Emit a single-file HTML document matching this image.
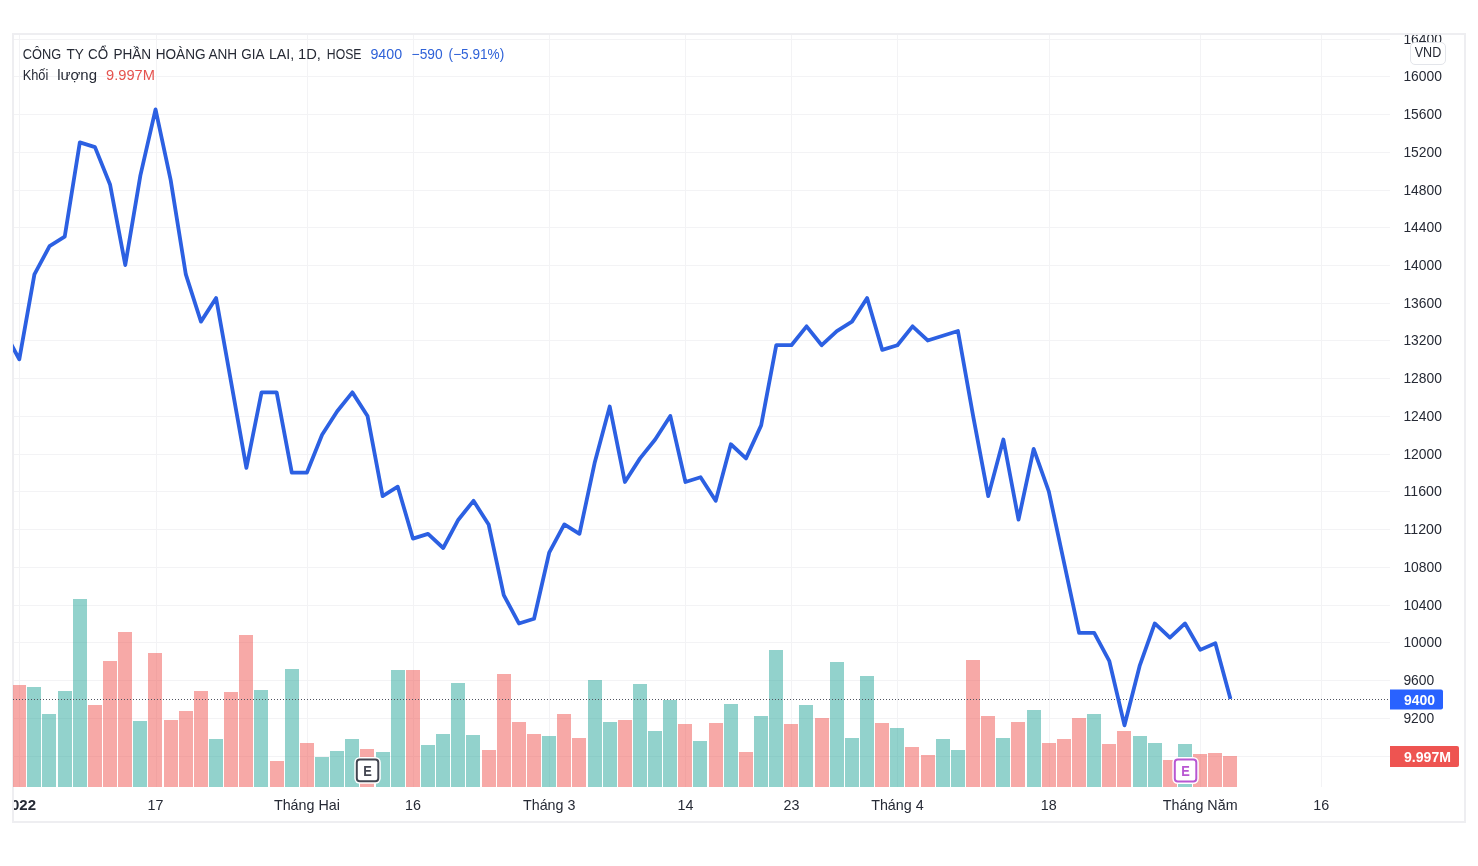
<!DOCTYPE html>
<html lang="vi"><head><meta charset="utf-8"><title>HAG</title>
<style>html,body{margin:0;padding:0;background:#fff;}body{width:1478px;height:866px;position:relative;overflow:hidden;font-family:"Liberation Sans",sans-serif;}</style></head>
<body>
<svg width="1478" height="866" viewBox="0 0 1478 866" style="position:absolute;left:0;top:0;display:block;will-change:transform" font-family='"Liberation Sans", sans-serif'>
<defs><clipPath id="plot"><rect x="13" y="35" width="1377" height="752"/></clipPath><clipPath id="axis"><rect x="1390" y="35" width="74" height="752"/></clipPath><clipPath id="time"><rect x="14" y="787" width="1450" height="34"/></clipPath></defs>
<rect x="0" y="0" width="1478" height="866" fill="#ffffff"/>
<g fill="#eeeef1" shape-rendering="crispEdges">
<rect x="12" y="33" width="1454" height="2"/>
<rect x="12" y="821" width="1454" height="2"/>
<rect x="12" y="33" width="2" height="790"/>
<rect x="1464" y="33" width="2" height="790"/>
</g>
<g fill="#f3f3f5" shape-rendering="crispEdges">
<rect x="14" y="39" width="1376" height="1"/>
<rect x="14" y="76" width="1376" height="1"/>
<rect x="14" y="114" width="1376" height="1"/>
<rect x="14" y="152" width="1376" height="1"/>
<rect x="14" y="190" width="1376" height="1"/>
<rect x="14" y="227" width="1376" height="1"/>
<rect x="14" y="265" width="1376" height="1"/>
<rect x="14" y="303" width="1376" height="1"/>
<rect x="14" y="340" width="1376" height="1"/>
<rect x="14" y="378" width="1376" height="1"/>
<rect x="14" y="416" width="1376" height="1"/>
<rect x="14" y="454" width="1376" height="1"/>
<rect x="14" y="491" width="1376" height="1"/>
<rect x="14" y="529" width="1376" height="1"/>
<rect x="14" y="567" width="1376" height="1"/>
<rect x="14" y="605" width="1376" height="1"/>
<rect x="14" y="642" width="1376" height="1"/>
<rect x="14" y="680" width="1376" height="1"/>
<rect x="14" y="718" width="1376" height="1"/>
<rect x="14" y="756" width="1376" height="1"/>
<rect x="19" y="35" width="1" height="752"/>
<rect x="156" y="35" width="1" height="752"/>
<rect x="307" y="35" width="1" height="752"/>
<rect x="413" y="35" width="1" height="752"/>
<rect x="549" y="35" width="1" height="752"/>
<rect x="685" y="35" width="1" height="752"/>
<rect x="791" y="35" width="1" height="752"/>
<rect x="897" y="35" width="1" height="752"/>
<rect x="1049" y="35" width="1" height="752"/>
<rect x="1200" y="35" width="1" height="752"/>
<rect x="1321" y="35" width="1" height="752"/>
</g>
<g shape-rendering="crispEdges" clip-path="url(#plot)">
<rect x="12" y="685" width="14" height="102" fill="rgba(239,83,80,0.5)"/>
<rect x="27" y="687" width="14" height="100" fill="rgba(38,166,154,0.5)"/>
<rect x="42" y="714" width="14" height="73" fill="rgba(38,166,154,0.5)"/>
<rect x="58" y="691" width="14" height="96" fill="rgba(38,166,154,0.5)"/>
<rect x="73" y="599" width="14" height="188" fill="rgba(38,166,154,0.5)"/>
<rect x="88" y="705" width="14" height="82" fill="rgba(239,83,80,0.5)"/>
<rect x="103" y="661" width="14" height="126" fill="rgba(239,83,80,0.5)"/>
<rect x="118" y="632" width="14" height="155" fill="rgba(239,83,80,0.5)"/>
<rect x="133" y="721" width="14" height="66" fill="rgba(38,166,154,0.5)"/>
<rect x="148" y="653" width="14" height="134" fill="rgba(239,83,80,0.5)"/>
<rect x="164" y="720" width="14" height="67" fill="rgba(239,83,80,0.5)"/>
<rect x="179" y="711" width="14" height="76" fill="rgba(239,83,80,0.5)"/>
<rect x="194" y="691" width="14" height="96" fill="rgba(239,83,80,0.5)"/>
<rect x="209" y="739" width="14" height="48" fill="rgba(38,166,154,0.5)"/>
<rect x="224" y="692" width="14" height="95" fill="rgba(239,83,80,0.5)"/>
<rect x="239" y="635" width="14" height="152" fill="rgba(239,83,80,0.5)"/>
<rect x="254" y="690" width="14" height="97" fill="rgba(38,166,154,0.5)"/>
<rect x="270" y="761" width="14" height="26" fill="rgba(239,83,80,0.5)"/>
<rect x="285" y="669" width="14" height="118" fill="rgba(38,166,154,0.5)"/>
<rect x="300" y="743" width="14" height="44" fill="rgba(239,83,80,0.5)"/>
<rect x="315" y="757" width="14" height="30" fill="rgba(38,166,154,0.5)"/>
<rect x="330" y="751" width="14" height="36" fill="rgba(38,166,154,0.5)"/>
<rect x="345" y="739" width="14" height="48" fill="rgba(38,166,154,0.5)"/>
<rect x="360" y="749" width="14" height="38" fill="rgba(239,83,80,0.5)"/>
<rect x="376" y="752" width="14" height="35" fill="rgba(38,166,154,0.5)"/>
<rect x="391" y="670" width="14" height="117" fill="rgba(38,166,154,0.5)"/>
<rect x="406" y="670" width="14" height="117" fill="rgba(239,83,80,0.5)"/>
<rect x="421" y="745" width="14" height="42" fill="rgba(38,166,154,0.5)"/>
<rect x="436" y="734" width="14" height="53" fill="rgba(38,166,154,0.5)"/>
<rect x="451" y="683" width="14" height="104" fill="rgba(38,166,154,0.5)"/>
<rect x="466" y="735" width="14" height="52" fill="rgba(38,166,154,0.5)"/>
<rect x="482" y="750" width="14" height="37" fill="rgba(239,83,80,0.5)"/>
<rect x="497" y="674" width="14" height="113" fill="rgba(239,83,80,0.5)"/>
<rect x="512" y="722" width="14" height="65" fill="rgba(239,83,80,0.5)"/>
<rect x="527" y="734" width="14" height="53" fill="rgba(239,83,80,0.5)"/>
<rect x="542" y="736" width="14" height="51" fill="rgba(38,166,154,0.5)"/>
<rect x="557" y="714" width="14" height="73" fill="rgba(239,83,80,0.5)"/>
<rect x="572" y="738" width="14" height="49" fill="rgba(239,83,80,0.5)"/>
<rect x="588" y="680" width="14" height="107" fill="rgba(38,166,154,0.5)"/>
<rect x="603" y="722" width="14" height="65" fill="rgba(38,166,154,0.5)"/>
<rect x="618" y="720" width="14" height="67" fill="rgba(239,83,80,0.5)"/>
<rect x="633" y="684" width="14" height="103" fill="rgba(38,166,154,0.5)"/>
<rect x="648" y="731" width="14" height="56" fill="rgba(38,166,154,0.5)"/>
<rect x="663" y="700" width="14" height="87" fill="rgba(38,166,154,0.5)"/>
<rect x="678" y="724" width="14" height="63" fill="rgba(239,83,80,0.5)"/>
<rect x="693" y="741" width="14" height="46" fill="rgba(38,166,154,0.5)"/>
<rect x="709" y="723" width="14" height="64" fill="rgba(239,83,80,0.5)"/>
<rect x="724" y="704" width="14" height="83" fill="rgba(38,166,154,0.5)"/>
<rect x="739" y="752" width="14" height="35" fill="rgba(239,83,80,0.5)"/>
<rect x="754" y="716" width="14" height="71" fill="rgba(38,166,154,0.5)"/>
<rect x="769" y="650" width="14" height="137" fill="rgba(38,166,154,0.5)"/>
<rect x="784" y="724" width="14" height="63" fill="rgba(239,83,80,0.5)"/>
<rect x="799" y="705" width="14" height="82" fill="rgba(38,166,154,0.5)"/>
<rect x="815" y="718" width="14" height="69" fill="rgba(239,83,80,0.5)"/>
<rect x="830" y="662" width="14" height="125" fill="rgba(38,166,154,0.5)"/>
<rect x="845" y="738" width="14" height="49" fill="rgba(38,166,154,0.5)"/>
<rect x="860" y="676" width="14" height="111" fill="rgba(38,166,154,0.5)"/>
<rect x="875" y="723" width="14" height="64" fill="rgba(239,83,80,0.5)"/>
<rect x="890" y="728" width="14" height="59" fill="rgba(38,166,154,0.5)"/>
<rect x="905" y="747" width="14" height="40" fill="rgba(239,83,80,0.5)"/>
<rect x="921" y="755" width="14" height="32" fill="rgba(239,83,80,0.5)"/>
<rect x="936" y="739" width="14" height="48" fill="rgba(38,166,154,0.5)"/>
<rect x="951" y="750" width="14" height="37" fill="rgba(38,166,154,0.5)"/>
<rect x="966" y="660" width="14" height="127" fill="rgba(239,83,80,0.5)"/>
<rect x="981" y="716" width="14" height="71" fill="rgba(239,83,80,0.5)"/>
<rect x="996" y="738" width="14" height="49" fill="rgba(38,166,154,0.5)"/>
<rect x="1011" y="722" width="14" height="65" fill="rgba(239,83,80,0.5)"/>
<rect x="1027" y="710" width="14" height="77" fill="rgba(38,166,154,0.5)"/>
<rect x="1042" y="743" width="14" height="44" fill="rgba(239,83,80,0.5)"/>
<rect x="1057" y="739" width="14" height="48" fill="rgba(239,83,80,0.5)"/>
<rect x="1072" y="718" width="14" height="69" fill="rgba(239,83,80,0.5)"/>
<rect x="1087" y="714" width="14" height="73" fill="rgba(38,166,154,0.5)"/>
<rect x="1102" y="744" width="14" height="43" fill="rgba(239,83,80,0.5)"/>
<rect x="1117" y="731" width="14" height="56" fill="rgba(239,83,80,0.5)"/>
<rect x="1133" y="736" width="14" height="51" fill="rgba(38,166,154,0.5)"/>
<rect x="1148" y="743" width="14" height="44" fill="rgba(38,166,154,0.5)"/>
<rect x="1163" y="760" width="14" height="27" fill="rgba(239,83,80,0.5)"/>
<rect x="1178" y="744" width="14" height="43" fill="rgba(38,166,154,0.5)"/>
<rect x="1193" y="754" width="14" height="33" fill="rgba(239,83,80,0.5)"/>
<rect x="1208" y="753" width="14" height="34" fill="rgba(239,83,80,0.5)"/>
<rect x="1223" y="756" width="14" height="31" fill="rgba(239,83,80,0.5)"/>
</g>
<line x1="13" y1="699.5" x2="1390" y2="699.5" stroke="#50535e" stroke-width="1" stroke-dasharray="1 2" shape-rendering="crispEdges"/>
<polyline points="4.14,331.04 19.28,359.34 34.42,274.44 49.56,246.15 64.70,236.71 79.84,142.38 94.98,147.10 110.12,184.83 125.26,265.01 140.40,175.40 155.54,109.37 170.68,180.12 185.82,274.44 200.96,321.61 216.10,298.03 231.24,382.92 246.38,467.82 261.52,392.36 276.66,392.36 291.80,472.54 306.94,472.54 322.08,434.81 337.22,411.22 352.36,392.36 367.50,415.94 382.64,496.12 397.78,486.69 412.92,538.57 428.06,533.85 443.20,548.00 458.34,519.70 473.48,500.84 488.62,524.42 503.76,595.17 518.90,623.47 534.04,618.75 549.18,552.72 564.32,524.42 579.46,533.85 594.60,463.11 609.74,406.51 624.88,481.97 640.02,458.39 655.16,439.52 670.30,415.94 685.44,481.97 700.58,477.25 715.72,500.84 730.86,444.24 746.00,458.39 761.14,425.37 776.28,345.19 791.42,345.19 806.56,326.33 821.70,345.19 836.84,331.04 851.98,321.61 867.12,298.03 882.26,349.91 897.40,345.19 912.54,326.33 927.68,340.48 942.82,335.76 957.96,331.04 973.10,415.94 988.24,496.12 1003.38,439.52 1018.52,519.70 1033.66,448.96 1048.80,491.40 1063.94,562.15 1079.08,632.90 1094.22,632.90 1109.36,661.20 1124.50,725.34 1139.64,665.91 1154.78,623.47 1169.92,637.62 1185.06,623.47 1200.20,649.88 1215.34,643.28 1230.48,698.93" fill="none" stroke="#2c60e2" stroke-width="3.8" stroke-linejoin="round" stroke-linecap="butt" clip-path="url(#plot)"/>
<g font-size="14.8" fill="#262a35" clip-path="url(#axis)">
<text x="1403.4" y="44.3" textLength="38.5" lengthAdjust="spacingAndGlyphs">16400</text>
<text x="1403.4" y="81.3" textLength="38.5" lengthAdjust="spacingAndGlyphs">16000</text>
<text x="1403.4" y="119.3" textLength="38.5" lengthAdjust="spacingAndGlyphs">15600</text>
<text x="1403.4" y="157.3" textLength="38.5" lengthAdjust="spacingAndGlyphs">15200</text>
<text x="1403.4" y="195.3" textLength="38.5" lengthAdjust="spacingAndGlyphs">14800</text>
<text x="1403.4" y="232.3" textLength="38.5" lengthAdjust="spacingAndGlyphs">14400</text>
<text x="1403.4" y="270.3" textLength="38.5" lengthAdjust="spacingAndGlyphs">14000</text>
<text x="1403.4" y="308.3" textLength="38.5" lengthAdjust="spacingAndGlyphs">13600</text>
<text x="1403.4" y="345.3" textLength="38.5" lengthAdjust="spacingAndGlyphs">13200</text>
<text x="1403.4" y="383.3" textLength="38.5" lengthAdjust="spacingAndGlyphs">12800</text>
<text x="1403.4" y="421.3" textLength="38.5" lengthAdjust="spacingAndGlyphs">12400</text>
<text x="1403.4" y="459.3" textLength="38.5" lengthAdjust="spacingAndGlyphs">12000</text>
<text x="1403.4" y="496.3" textLength="38.5" lengthAdjust="spacingAndGlyphs">11600</text>
<text x="1403.4" y="534.3" textLength="38.5" lengthAdjust="spacingAndGlyphs">11200</text>
<text x="1403.4" y="572.3" textLength="38.5" lengthAdjust="spacingAndGlyphs">10800</text>
<text x="1403.4" y="610.3" textLength="38.5" lengthAdjust="spacingAndGlyphs">10400</text>
<text x="1403.4" y="647.3" textLength="38.5" lengthAdjust="spacingAndGlyphs">10000</text>
<text x="1403.4" y="685.3" textLength="30.8" lengthAdjust="spacingAndGlyphs">9600</text>
<text x="1403.4" y="723.3" textLength="30.8" lengthAdjust="spacingAndGlyphs">9200</text>
</g>
<rect x="1410.5" y="42.5" width="35" height="22" rx="4.5" fill="#ffffff" stroke="#e3e5ea" stroke-width="1"/>
<text x="1428" y="57.4" font-size="14" fill="#262a35" text-anchor="middle" textLength="26.5" lengthAdjust="spacingAndGlyphs">VND</text>
<path d="M1390 689.5 H1441 a2 2 0 0 1 2 2 V707.5 a2 2 0 0 1 -2 2 H1390 Z" fill="#2962ff"/>
<text x="1404" y="704.9" font-size="15" font-weight="bold" fill="#ffffff" textLength="31" lengthAdjust="spacingAndGlyphs">9400</text>
<path d="M1390 746 H1457 a2 2 0 0 1 2 2 V765 a2 2 0 0 1 -2 2 H1390 Z" fill="#ee5451"/>
<text x="1404" y="761.9" font-size="15" font-weight="bold" fill="#ffffff" textLength="47" lengthAdjust="spacingAndGlyphs">9.997M</text>
<g font-size="14.3" fill="#262a35" text-anchor="middle" clip-path="url(#time)">
<text x="155.5" y="809.6">17</text>
<text x="306.9" y="809.6">Tháng Hai</text>
<text x="412.9" y="809.6">16</text>
<text x="549.2" y="809.6">Tháng 3</text>
<text x="685.4" y="809.6">14</text>
<text x="791.4" y="809.6">23</text>
<text x="897.4" y="809.6">Tháng 4</text>
<text x="1048.8" y="809.6">18</text>
<text x="1200.2" y="809.6">Tháng Năm</text>
<text x="1321.3" y="809.6">16</text>
<text x="19.3" y="809.6" font-weight="bold" textLength="33.4" lengthAdjust="spacingAndGlyphs">2022</text>
</g>
<rect x="354.3" y="757.0" width="26.5" height="26.8" rx="5.5" fill="#ffffff"/>
<rect x="356.8" y="759.5" width="21.5" height="21.8" rx="3" fill="#ffffff" stroke="#434651" stroke-width="2"/>
<text x="367.65" y="775.85" font-size="15.2" font-weight="bold" fill="#434651" text-anchor="middle" textLength="8.6" lengthAdjust="spacingAndGlyphs">E</text>
<rect x="1172.3" y="757.0" width="26.5" height="27.0" rx="5.5" fill="#ffffff"/>
<rect x="1174.8" y="759.5" width="21.5" height="22.0" rx="3" fill="#ffffff" stroke="#b857d2" stroke-width="2"/>
<text x="1185.65" y="775.95" font-size="15.2" font-weight="bold" fill="#b857d2" text-anchor="middle" textLength="8.6" lengthAdjust="spacingAndGlyphs">E</text>
<g font-size="14">
<text x="22.7" y="58.5" fill="#262a35" textLength="38.4" lengthAdjust="spacingAndGlyphs">CÔNG</text>
<text x="66.4" y="58.5" fill="#262a35" textLength="17.4" lengthAdjust="spacingAndGlyphs">TY</text>
<text x="88.1" y="58.5" fill="#262a35" textLength="20.1" lengthAdjust="spacingAndGlyphs">CỔ</text>
<text x="113.4" y="58.5" fill="#262a35" textLength="37.8" lengthAdjust="spacingAndGlyphs">PHẦN</text>
<text x="155.7" y="58.5" fill="#262a35" textLength="49.9" lengthAdjust="spacingAndGlyphs">HOÀNG</text>
<text x="208.4" y="58.5" fill="#262a35" textLength="28.7" lengthAdjust="spacingAndGlyphs">ANH</text>
<text x="241.3" y="58.5" fill="#262a35" textLength="23.2" lengthAdjust="spacingAndGlyphs">GIA</text>
<text x="268.9" y="58.5" fill="#262a35" textLength="25.4" lengthAdjust="spacingAndGlyphs">LAI,</text>
<text x="298.0" y="58.5" fill="#262a35" textLength="22.9" lengthAdjust="spacingAndGlyphs">1D,</text>
<text x="326.8" y="58.5" fill="#262a35" textLength="34.7" lengthAdjust="spacingAndGlyphs">HOSE</text>
<text x="370.4" y="58.5" fill="#2f62d8" textLength="31.7" lengthAdjust="spacingAndGlyphs">9400</text>
<text x="411.6" y="58.5" fill="#2f62d8" textLength="31.0" lengthAdjust="spacingAndGlyphs">−590</text>
<text x="448.6" y="58.5" fill="#2f62d8" textLength="55.6" lengthAdjust="spacingAndGlyphs">(−5.91%)</text>
<text x="22.7" y="80" fill="#262a35" textLength="25.6" lengthAdjust="spacingAndGlyphs">Khối</text>
<text x="57.2" y="80" fill="#262a35" textLength="39.8" lengthAdjust="spacingAndGlyphs">lượng</text>
<text x="106.0" y="80" fill="#e5534f" textLength="48.9" lengthAdjust="spacingAndGlyphs">9.997M</text>
</g>
</svg>
</body></html>
